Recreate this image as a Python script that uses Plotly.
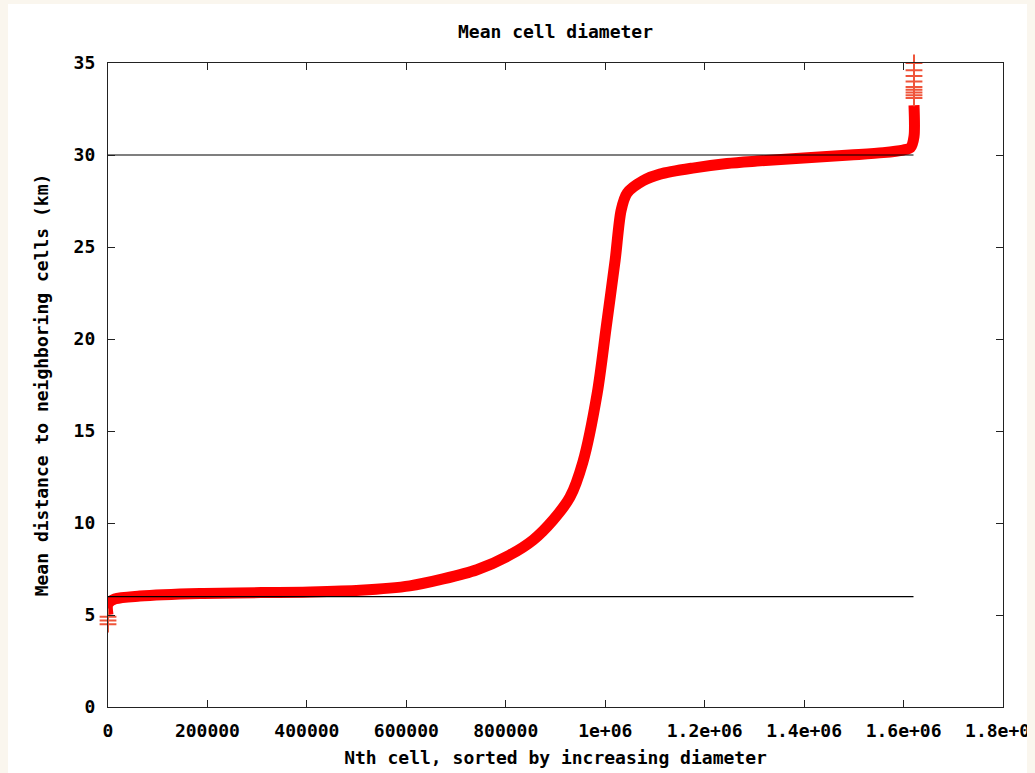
import plotly.graph_objects as go

# Sorted cell rank (x) vs. mean distance to neighboring cells in km (y)
cell_rank = [0, 0, 14000, 64000, 185000, 406000, 507000, 607000, 674000, 742000,
             808000, 855000, 895000, 929000, 955000, 984000, 1002000, 1020000,
             1032000, 1044000, 1076000, 1110000, 1176000, 1245000, 1305000,
             1492000, 1559000, 1599000, 1614000, 1621000, 1621000]
mean_dist = [5.0, 5.6, 5.87, 6.03, 6.17, 6.25, 6.34, 6.58, 6.96, 7.46,
             8.26, 9.08, 10.16, 11.4, 13.3, 17.07, 20.65, 24.29,
             27.0, 27.93, 28.6, 28.96, 29.29, 29.54, 29.67,
             30.0, 30.13, 30.27, 30.4, 31.0, 32.7]

# Isolated extreme points drawn as '+' markers
low_rank = [0, 0, 0]
low_dist = [4.5, 4.7, 4.9]
high_rank = [1621000, 1621000, 1621000, 1621000, 1621000, 1621000, 1621000, 1621000, 1621000]
high_dist = [33.1, 33.25, 33.4, 33.55, 33.7, 34.0, 34.3, 34.6, 35.0]

# Reference lines
ref_x = [0, 1620000]
ref_low = [6, 6]
ref_high = [30, 30]

x_ticks = [0, 200000, 400000, 600000, 800000, 1000000, 1200000, 1400000, 1600000, 1800000]
x_tick_text = ["0", "200000", "400000", "600000", "800000", "1e+06", "1.2e+06",
               "1.4e+06", "1.6e+06", "1.8e+06"]
y_ticks = [0, 5, 10, 15, 20, 25, 30, 35]
y_tick_text = ["0", "5", "10", "15", "20", "25", "30", "35"]

FONT = "DejaVu Sans Mono"
FS = 18
RED = "#ff0000"

fig = go.Figure()
fig.add_trace(go.Scatter(x=cell_rank, y=mean_dist, mode="lines",
                         line=dict(color=RED, width=11, shape="spline", smoothing=0.8),
                         showlegend=False, hoverinfo="skip"))
fig.add_trace(go.Scatter(x=low_rank + high_rank, y=low_dist + high_dist, mode="markers",
                         marker=dict(symbol="cross-thin-open", size=12,
                                     line=dict(color=RED, width=2)),
                         cliponaxis=False, showlegend=False, hoverinfo="skip"))
fig.add_trace(go.Scatter(x=ref_x, y=ref_low, mode="lines",
                         line=dict(color="black", width=1.2),
                         showlegend=False, hoverinfo="skip"))
fig.add_trace(go.Scatter(x=ref_x, y=ref_high, mode="lines",
                         line=dict(color="black", width=1.2),
                         showlegend=False, hoverinfo="skip"))

tickfont = dict(family=FONT, size=FS, color="black", weight="bold")
axis_common = dict(showline=True, linecolor="#222222", linewidth=1.3, mirror="ticks",
                   ticks="inside", ticklen=7, tickwidth=1.3, tickcolor="#222222",
                   showgrid=False, zeroline=False, tickfont=tickfont, automargin=False)

fig.update_xaxes(range=[0, 1800000], tickvals=x_ticks, ticktext=x_tick_text,
                 ticklabelstandoff=7, ticklabeloverflow="allow",
                 title=dict(text="<b>Nth cell, sorted by increasing diameter</b>",
                            font=dict(family=FONT, size=FS, color="black"), standoff=11),
                 **axis_common)
fig.update_yaxes(range=[0, 35], tickvals=y_ticks, ticktext=y_tick_text,
                 ticklabelstandoff=8,
                 title=dict(text="<b>Mean distance to neighboring cells (km)</b>",
                            font=dict(family=FONT, size=FS, color="black"), standoff=20),
                 **axis_common)

# Figure placed at page offset (8, 4); page background shows as the beige frame
W, H = 1019, 769
L, R, T, B = 100, 24, 59, 66

fig.update_layout(
    width=W, height=H,
    margin=dict(l=L, r=R, t=T, b=B, pad=0),
    paper_bgcolor="white", plot_bgcolor="white",
    title=dict(text="<b>Mean cell diameter</b>", x=0.5, xref="paper",
               y=1 - 28 / H, yref="container", yanchor="middle",
               font=dict(family=FONT, size=FS, color="black")),
)

fig.write_html(
    "out.html",
    post_script=("document.body.style.margin='4px 0 0 8px';"
                 "document.body.style.background='#faf6ee';"
                 "document.body.style.overflow='hidden';"),
)
